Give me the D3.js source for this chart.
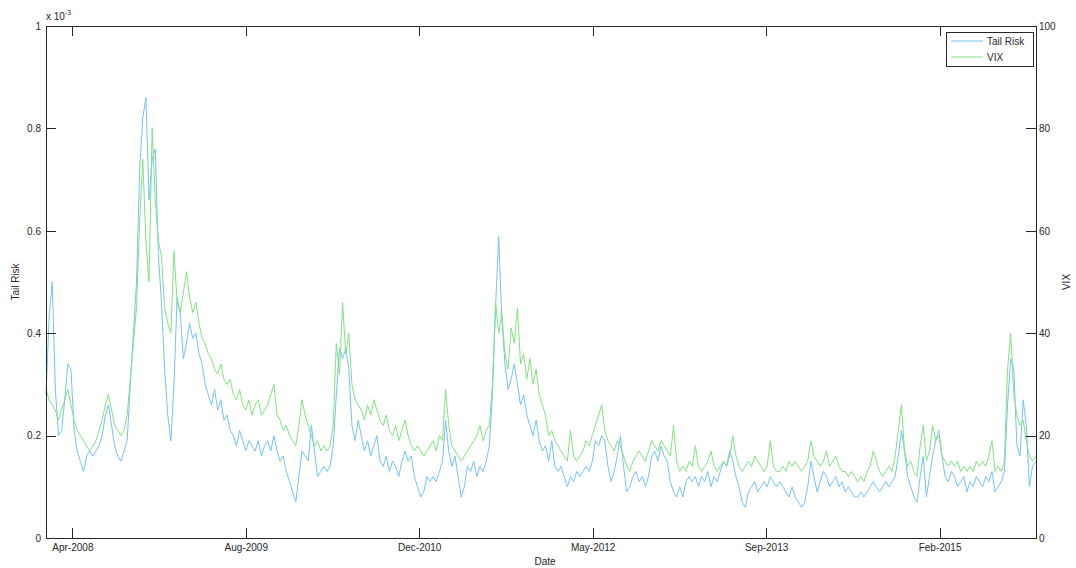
<!DOCTYPE html>
<html>
<head>
<meta charset="utf-8">
<script src="https://cdn.jsdelivr.net/npm/d3@7"></script>
<style>
  body { margin: 0; background: #fff; }
  text { font-family: "Liberation Sans", Arial, sans-serif; font-size: 10px; fill: #262626; }
</style>
</head>
<body>
<svg id="chart" width="1076" height="568"></svg>
<script>
// sampled every stepDays from startDate
const startDate = '2008-01-17';
const endDate = '2015-11-10';
const stepDays = 9;

// tail risk, in units of 10^-3
const tailRisk = [
  0.28,0.43,0.50,0.29,0.20,0.21,0.27,0.34,0.33,0.21,
  0.17,0.15,0.13,0.16,0.17,0.16,0.17,0.18,0.20,0.24,
  0.26,0.22,0.18,0.16,0.15,0.17,0.19,0.30,0.40,0.50,
  0.72,0.82,0.86,0.66,0.74,0.76,0.55,0.46,0.33,0.24,
  0.19,0.30,0.47,0.44,0.35,0.38,0.42,0.39,0.40,0.36,
  0.34,0.30,0.28,0.26,0.29,0.25,0.27,0.23,0.24,0.21,
  0.20,0.18,0.21,0.19,0.17,0.19,0.18,0.17,0.19,0.16,
  0.18,0.19,0.17,0.20,0.17,0.15,0.16,0.13,0.11,0.09,
  0.07,0.12,0.17,0.16,0.15,0.22,0.17,0.12,0.13,0.14,
  0.13,0.14,0.18,0.28,0.37,0.35,0.37,0.33,0.22,0.19,
  0.23,0.20,0.17,0.19,0.16,0.18,0.20,0.15,0.14,0.16,
  0.13,0.15,0.14,0.12,0.15,0.17,0.15,0.16,0.12,0.10,
  0.08,0.09,0.12,0.11,0.12,0.11,0.13,0.15,0.23,0.17,
  0.14,0.16,0.12,0.08,0.10,0.14,0.13,0.15,0.12,0.14,
  0.13,0.15,0.18,0.28,0.45,0.59,0.43,0.34,0.29,0.31,
  0.34,0.30,0.26,0.28,0.24,0.22,0.20,0.23,0.19,0.17,
  0.18,0.15,0.19,0.14,0.13,0.14,0.12,0.10,0.12,0.11,
  0.13,0.12,0.13,0.14,0.13,0.15,0.19,0.18,0.20,0.19,
  0.14,0.11,0.13,0.16,0.20,0.14,0.09,0.10,0.12,0.13,
  0.11,0.12,0.10,0.12,0.16,0.17,0.15,0.18,0.16,0.15,
  0.11,0.09,0.08,0.10,0.08,0.11,0.12,0.11,0.12,0.10,
  0.12,0.11,0.13,0.10,0.12,0.11,0.13,0.15,0.14,0.17,
  0.15,0.12,0.10,0.07,0.06,0.09,0.10,0.11,0.09,0.10,
  0.11,0.10,0.12,0.11,0.10,0.11,0.10,0.09,0.08,0.10,
  0.08,0.07,0.06,0.07,0.10,0.15,0.12,0.09,0.11,0.13,
  0.12,0.10,0.11,0.12,0.10,0.11,0.09,0.10,0.09,0.08,
  0.08,0.09,0.08,0.09,0.10,0.11,0.10,0.09,0.10,0.11,
  0.10,0.11,0.12,0.16,0.21,0.17,0.12,0.10,0.08,0.07,
  0.12,0.16,0.08,0.12,0.16,0.19,0.21,0.16,0.12,0.11,
  0.13,0.12,0.10,0.11,0.12,0.09,0.11,0.10,0.12,0.11,
  0.10,0.12,0.11,0.13,0.09,0.10,0.11,0.13,0.26,0.35,
  0.33,0.18,0.16,0.27,0.22,0.10,0.14,0.15
];

const vix = [
  29,27,26,25,23,25,27,29,26,23,
  21,20,19,18,17,18,19,21,23,26,
  28,25,22,21,20,21,24,31,38,45,
  62,74,58,50,80,66,58,55,45,42,
  40,56,46,44,48,52,47,44,46,42,
  39,38,36,35,33,32,34,31,30,31,
  28,27,29,26,25,27,24,26,27,24,
  25,26,28,30,24,23,21,22,20,19,
  18,22,27,24,22,20,18,19,17,18,
  17,18,22,38,32,46,36,40,30,27,
  26,25,23,26,24,27,25,23,22,24,
  21,20,22,19,21,23,20,18,17,18,
  17,16,17,18,19,17,20,19,29,22,
  18,17,16,15,16,17,18,19,20,22,
  19,21,22,30,46,40,44,36,33,41,
  38,45,34,36,31,35,30,33,28,26,
  24,20,21,19,18,17,16,15,21,16,
  15,16,17,19,18,20,22,24,26,21,
  19,18,17,19,18,16,14,13,15,16,
  17,16,15,17,19,18,17,19,18,17,
  16,22,15,13,14,13,15,14,18,14,
  13,14,15,17,14,13,14,15,14,16,
  20,16,14,13,14,15,14,16,15,14,
  13,14,19,14,13,13,14,13,15,14,
  15,14,13,14,15,19,16,15,14,15,
  17,14,15,16,14,13,13,12,13,12,
  11,12,11,13,14,17,15,13,12,13,
  14,13,16,21,26,17,14,15,13,12,
  18,22,15,17,22,19,20,16,15,14,
  15,14,15,13,14,13,14,13,15,14,
  15,14,16,19,13,14,13,15,33,40,
  28,24,22,23,19,16,15,16
];

const xTickDates = ['2008-04-02','2009-08-15','2010-12-28','2012-05-11','2013-09-23','2015-02-05'];
const tailTicks = [0, 0.2, 0.4, 0.6, 0.8, 1];
const vixTicks = [0, 20, 40, 60, 80, 100];
const seriesNames = ['Tail Risk', 'VIX'];
const seriesColors = ['#74c3f5', '#82e282'];

const margin = { left: 46, right: 1036, top: 26, bottom: 538 };
const svg = d3.select('#chart');
const parse = d3.utcParse('%Y-%m-%d');
const dates = tailRisk.map((_, i) => d3.utcDay.offset(parse(startDate), i * stepDays));

const x = d3.scaleUtc()
  .domain([parse(startDate), parse(endDate)])
  .range([margin.left, margin.right]);
const yLeft = d3.scaleLinear().domain([0, 1]).range([margin.bottom, margin.top]);
const yRight = d3.scaleLinear().domain([0, 100]).range([margin.bottom, margin.top]);

// lines
const lineTail = d3.line().x((d, i) => x(dates[i])).y(d => yLeft(d));
const lineVix = d3.line().x((d, i) => x(dates[i])).y(d => yRight(d));

svg.append('path')
  .attr('d', lineTail(tailRisk))
  .attr('fill', 'none')
  .attr('stroke', seriesColors[0])
  .attr('stroke-width', 1);

svg.append('path')
  .attr('d', lineVix(vix))
  .attr('fill', 'none')
  .attr('stroke', seriesColors[1])
  .attr('stroke-width', 1);

// axes
const tickDates = xTickDates.map(parse);
const fmt = d3.utcFormat('%b-%Y');

const xAxis = svg.append('g')
  .attr('transform', `translate(0,${margin.bottom})`)
  .call(d3.axisBottom(x).tickValues(tickDates).tickFormat(fmt).tickSizeInner(-10).tickSizeOuter(0).tickPadding(6));

svg.append('g')
  .attr('transform', `translate(0,${margin.top})`)
  .call(d3.axisTop(x).tickValues(tickDates).tickFormat('').tickSizeInner(-10).tickSizeOuter(0));

svg.append('g')
  .attr('transform', `translate(${margin.left},0)`)
  .call(d3.axisLeft(yLeft).tickValues(tailTicks).tickFormat(d3.format('~g')).tickSizeInner(-10).tickSizeOuter(0).tickPadding(5));

svg.append('g')
  .attr('transform', `translate(${margin.right},0)`)
  .call(d3.axisRight(yRight).tickValues(vixTicks).tickSizeInner(-10).tickSizeOuter(0).tickPadding(3));

svg.selectAll('.domain').remove();
svg.selectAll('.tick line').attr('stroke', '#262626').attr('shape-rendering', 'crispEdges');
svg.selectAll('.tick text').attr('fill', '#262626').style('font-size', '10px').style('font-family', '"Liberation Sans", Arial, sans-serif');

svg.append('rect')
  .attr('x', margin.left)
  .attr('y', margin.top)
  .attr('width', margin.right - margin.left)
  .attr('height', margin.bottom - margin.top)
  .attr('fill', 'none')
  .attr('stroke', '#262626')
  .attr('shape-rendering', 'crispEdges');

// exponent label
const expo = svg.append('text').attr('x', 46).attr('y', 20);
expo.append('tspan').text('x 10');
expo.append('tspan').attr('dy', -5).style('font-size', '7px').text('-3');

// axis titles
svg.append('text')
  .attr('text-anchor', 'middle')
  .attr('transform', `translate(19,${(margin.top + margin.bottom) / 2}) rotate(-90)`)
  .text('Tail Risk');

svg.append('text')
  .attr('text-anchor', 'middle')
  .attr('transform', `translate(1070,${(margin.top + margin.bottom) / 2}) rotate(-90)`)
  .text('VIX');

svg.append('text')
  .attr('text-anchor', 'middle')
  .attr('x', (margin.left + margin.right) / 2 + 4)
  .attr('y', 565)
  .text('Date');

// legend
const legend = svg.append('g').attr('transform', 'translate(946,32)');
legend.append('rect')
  .attr('width', 87)
  .attr('height', 34)
  .attr('fill', '#fff')
  .attr('stroke', '#262626')
  .attr('shape-rendering', 'crispEdges');

seriesNames.forEach((name, i) => {
  const yy = 9 + i * 16;
  legend.append('line')
    .attr('x1', 5).attr('x2', 37)
    .attr('y1', yy).attr('y2', yy)
    .attr('stroke', seriesColors[i]);
  legend.append('text')
    .attr('x', 41)
    .attr('y', yy + 3.5)
    .text(name);
});
</script>
</body>
</html>
